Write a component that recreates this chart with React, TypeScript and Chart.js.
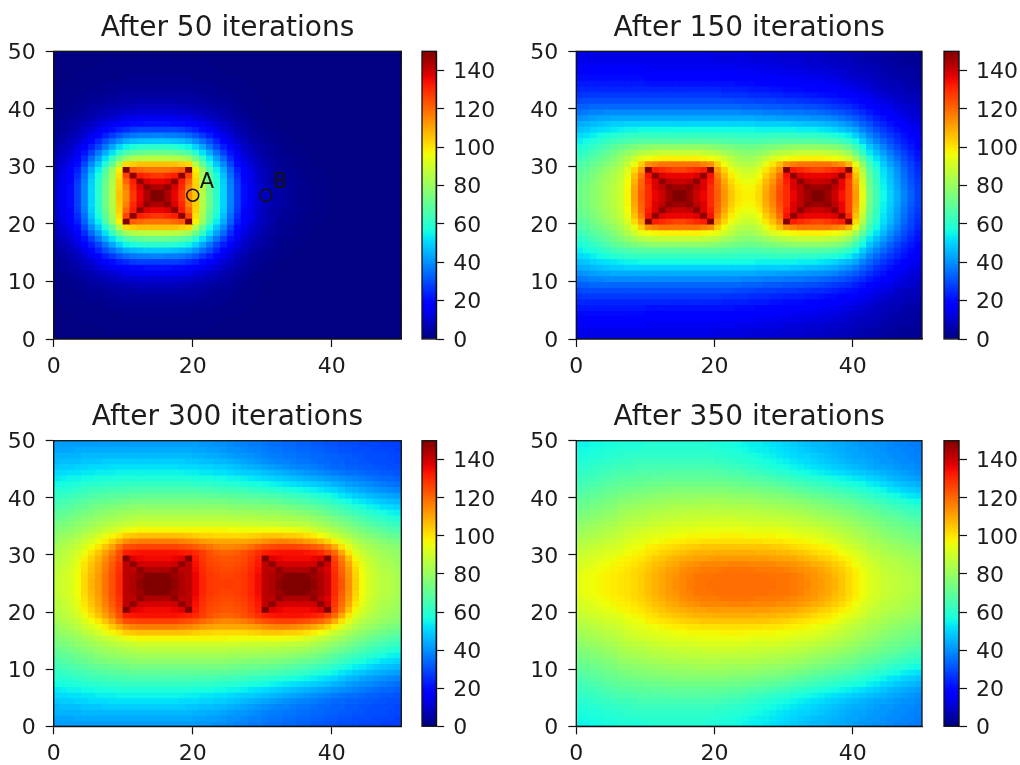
import React, { useEffect, useRef } from "react";
import { Chart, registerables } from "chart.js";

Chart.register(...registerables);

// Temperature, one number per grid cell. Rows run from the middle (y = 25)
// up to the top edge (y = 49); the field is mirrored about y = 25. A short row means zeros after its end.
const after50Rows = [
  [11,15,20,28,38,50,60,72,85,105,114,128,136,144,150,150,144,136,128,114,105,85,72,60,50,38,28,20,15,11,8,6,5,4,3,2,2,1,1,1],
  [11,15,20,28,38,50,60,72,85,104,116,130,138,148,144,144,148,138,130,116,104,85,72,60,50,38,28,20,15,11,8,6,5,4,3,2,2,1,1,1],
  [10,14,19,27,37,49,59,71,84,103,120,132,148,138,136,136,138,148,132,120,103,84,71,59,49,37,27,19,14,10,7,5,4,3,3,2,2,1,1,1],
  [10,14,18,25,35,47,57,69,82,101,126,148,132,130,128,128,130,132,148,126,101,82,69,57,47,35,25,18,14,10,7,5,4,3,2,2,1,1,1],
  [9,13,17,23,33,44,54,66,80,98,150,122,120,118,118,118,118,120,122,150,98,80,66,54,44,33,23,17,13,9,7,5,3,3,2,2,1,1,1],
  [8,11,15,20,29,39,48,58,70,85,102,104,106,106,106,106,106,106,104,102,85,70,58,48,39,29,20,15,11,8,6,4,3,2,2,1,1,1],
  [7,10,13,18,25,34,42,52,62,72,80,84,85,86,86,86,86,85,84,80,72,62,52,42,34,25,18,13,10,7,5,4,3,2,2,1,1],
  [6,8,11,15,21,28,36,44,52,60,66,69,71,72,72,72,72,71,69,66,60,52,44,36,28,21,15,11,8,6,4,3,2,2,1,1,1],
  [5,7,9,13,17,23,29,36,43,50,55,57,59,60,60,60,60,59,57,55,50,43,36,29,23,17,13,9,7,5,4,3,2,1,1,1],
  [4,5,8,10,14,19,24,30,35,40,44,46,47,48,48,48,48,47,46,44,40,35,30,24,19,14,10,8,5,4,3,2,2,1,1],
  [3,4,6,8,11,15,19,23,27,31,34,36,37,37,38,38,37,37,36,34,31,27,23,19,15,11,8,6,4,3,2,2,1,1],
  [2,3,5,6,9,11,14,17,20,23,25,27,28,28,28,28,28,28,27,25,23,20,17,14,11,9,6,5,3,2,2,1,1],
  [2,3,4,5,7,9,11,13,15,17,19,20,20,21,21,21,21,20,20,19,17,15,13,11,9,7,5,4,3,2,1,1],
  [1,2,3,4,5,6,8,9,11,12,14,14,15,15,15,15,15,15,14,14,12,11,9,8,6,5,4,3,2,1,1,1],
  [1,1,2,3,4,5,6,7,8,9,10,10,11,11,11,11,11,11,10,10,9,8,7,6,5,4,3,2,1,1,1],
  [1,1,2,2,3,4,4,5,6,6,7,7,8,8,8,8,8,8,7,7,6,6,5,4,4,3,2,2,1,1],
  [1,1,1,2,2,3,3,4,4,5,5,5,6,6,6,6,6,6,5,5,5,4,4,3,3,2,2,1,1,1],
  [0,1,1,1,2,2,2,3,3,4,4,4,4,4,4,4,4,4,4,4,4,3,3,2,2,2,1,1,1],
  [0,1,1,1,1,2,2,2,2,3,3,3,3,3,3,3,3,3,3,3,3,2,2,2,2,1,1,1,1],
  [0,0,1,1,1,1,1,2,2,2,2,2,2,2,2,2,2,2,2,2,2,2,2,1,1,1,1,1],
  [0,0,0,1,1,1,1,1,1,1,2,2,2,2,2,2,2,2,2,2,1,1,1,1,1,1,1],
  [0,0,0,0,1,1,1,1,1,1,1,1,1,1,1,1,1,1,1,1,1,1,1,1,1],
  [0,0,0,0,0,0,1,1,1,1,1,1,1,1,1,1,1,1,1,1,1,1,1],
  [0,0,0,0,0,0,0,1,1,1,1,1,1,1,1,1,1,1,1,1,1,1],
  [],
];
const after150Rows = [
  [72,74,77,80,83,86,90,97,111,122,130,136,140,146,150,150,146,140,136,130,122,113,105,100,98,98,102,110,116,125,130,136,142,146,150,150,146,140,134,126,112,94,74,64,56,50,44,38,33,28],
  [72,74,77,80,83,86,90,97,110,121,130,138,142,148,146,146,148,142,138,130,121,112,104,99,97,97,101,109,115,124,130,138,142,148,146,146,148,142,136,126,111,93,73,63,55,49,43,37,32,28],
  [71,73,76,79,82,85,89,96,108,120,132,138,148,142,140,140,142,148,138,132,120,110,102,97,95,95,99,107,113,122,132,138,148,142,140,140,142,148,136,126,109,91,72,62,54,48,42,36,31,27],
  [70,72,75,78,81,84,88,94,106,117,134,148,138,136,136,136,136,138,148,134,117,107,99,94,92,92,96,104,110,119,134,148,138,136,136,136,136,138,148,130,106,88,70,61,53,47,41,35,30,26],
  [68,70,73,76,79,82,86,92,102,112,150,132,130,128,126,126,128,130,132,150,112,103,95,91,89,89,93,100,106,114,150,132,130,128,126,126,128,130,132,150,102,84,68,59,52,46,40,34,29,25],
  [66,68,71,73,76,79,83,88,95,104,114,116,118,118,118,118,118,118,116,114,104,96,90,86,85,85,88,94,100,106,114,116,118,118,118,118,118,116,114,108,94,78,64,56,49,43,38,32,28,24],
  [63,65,68,70,73,76,80,84,89,94,96,97,98,98,98,98,98,98,97,96,94,90,86,83,81,81,84,88,92,94,96,97,98,98,98,98,97,96,94,90,82,70,59,52,46,40,35,30,26,22],
  [60,62,65,67,70,73,76,79,82,85,86,87,88,88,88,88,88,88,87,86,85,82,80,78,77,77,78,80,83,85,86,87,88,88,88,88,87,86,84,80,72,62,53,47,42,37,32,28,24,21],
  [57,59,61,64,66,69,71,73,75,76,77,78,78,78,78,78,78,78,78,77,76,75,74,73,72,72,73,74,75,76,77,78,78,78,78,78,77,76,74,70,64,56,48,43,38,33,29,25,22,19],
  [54,56,58,60,62,64,65,66,67,68,68,68,68,68,68,68,68,68,68,68,68,67,67,66,66,66,66,67,67,68,68,68,68,68,68,67,67,66,64,61,56,49,43,38,34,30,26,23,20,17],
  [51,52,54,56,57,59,60,61,62,62,62,62,62,62,62,62,62,62,62,62,62,62,62,61,61,61,61,61,62,62,62,62,61,61,61,60,59,58,56,54,49,44,38,34,30,27,24,21,18,16],
  [47,48,50,51,52,53,54,55,55,56,56,56,56,56,56,56,56,56,56,56,56,56,56,56,56,56,55,55,55,55,55,55,54,54,54,53,52,50,48,46,43,38,34,30,27,24,21,18,16,14],
  [44,45,46,47,48,49,49,50,50,50,50,50,50,50,50,50,50,50,50,50,50,50,50,50,50,50,49,49,49,49,49,48,48,47,47,46,45,44,42,40,37,33,30,26,24,21,18,16,14,13],
  [40,41,42,43,43,44,44,44,44,44,44,44,44,44,44,44,44,44,44,44,44,44,44,44,44,44,43,43,43,42,42,42,41,41,40,40,39,38,36,34,32,29,26,23,21,18,16,14,12,11],
  [36,37,38,38,39,39,39,39,39,39,39,39,39,39,39,39,39,39,39,39,39,39,39,39,38,38,38,37,37,37,36,36,36,35,35,34,33,32,31,29,27,25,22,20,18,16,14,12,11,10],
  [33,33,34,34,34,34,34,34,34,34,34,34,34,34,34,34,34,34,34,34,34,34,34,34,33,33,33,32,32,32,31,31,31,30,30,29,28,27,26,25,23,21,19,17,15,14,12,11,10,9],
  [29,30,30,30,30,30,30,30,30,30,30,30,30,30,30,30,30,30,30,30,30,30,30,29,29,29,28,28,28,27,27,27,26,26,25,25,24,23,22,21,20,18,16,14,13,12,10,9,8,8],
  [26,27,27,27,27,27,27,27,27,27,27,27,27,27,27,27,27,27,27,27,27,26,26,26,26,25,25,25,24,24,23,23,23,22,22,21,20,20,19,18,17,15,14,12,11,10,9,8,7,7],
  [24,24,24,24,24,24,24,24,24,24,24,24,24,24,24,24,24,24,24,24,24,23,23,23,23,22,22,22,21,21,20,20,20,19,19,18,18,17,16,15,14,13,12,10,9,8,8,7,6,6],
  [22,22,22,22,22,22,22,22,22,22,21,21,21,21,21,21,21,21,21,21,21,21,21,20,20,20,19,19,19,18,18,17,17,17,16,16,15,15,14,13,12,11,10,9,8,7,7,6,5,5],
  [20,20,20,20,20,20,20,20,20,20,19,19,19,19,19,19,19,19,19,19,19,19,19,18,18,18,17,17,17,16,16,15,15,15,14,14,13,13,12,11,10,10,9,8,7,6,6,5,5,4],
  [18,18,18,18,18,18,18,18,18,18,17,17,17,17,17,17,17,17,17,17,17,17,16,16,16,16,15,15,15,14,14,14,13,13,13,12,12,11,11,10,9,8,8,7,6,6,5,5,4,4],
  [16,16,16,16,16,16,16,16,16,16,15,15,15,15,15,15,15,15,15,15,15,15,15,14,14,14,14,13,13,13,12,12,12,11,11,11,10,10,9,9,8,7,7,6,5,5,4,4,4,3],
  [14,14,14,14,14,14,14,14,14,14,14,14,14,14,14,14,14,14,14,14,13,13,13,13,13,12,12,12,12,11,11,11,11,10,10,10,9,9,8,8,7,6,6,5,5,4,4,3,3,3],
  [13,13,13,13,13,13,13,13,13,13,13,13,13,13,13,13,13,13,13,13,12,12,12,12,12,11,11,11,11,10,10,10,10,9,9,9,8,8,7,7,6,6,5,5,4,4,3,3,3,3],
];
const after300Rows = [
  [88,90,92,96,102,108,112,118,124,130,142,144,148,150,150,150,150,148,144,142,136,131,128,127,127,127,127,128,131,135,142,144,148,150,150,150,150,148,144,140,130,123,114,104,96,91,88,86,85,83],
  [88,90,92,96,102,107,112,118,124,130,142,144,146,149,150,150,149,146,144,142,136,131,128,127,126,126,127,128,131,135,142,144,146,149,150,150,149,146,144,140,130,122,113,103,96,91,88,86,85,83],
  [87,89,91,95,101,106,111,117,123,129,142,142,148,144,144,144,144,148,142,142,135,130,127,126,125,125,126,127,130,134,142,142,148,144,144,144,144,148,142,138,129,121,112,102,95,90,87,85,84,82],
  [86,88,90,94,100,105,110,116,122,128,142,148,140,139,139,139,139,140,148,142,134,129,126,125,124,124,125,126,129,133,142,148,140,139,139,139,139,140,148,140,128,119,110,100,94,89,86,84,83,81],
  [85,87,89,93,98,103,108,114,120,126,150,138,136,135,135,135,135,136,138,150,133,128,125,124,123,123,124,125,128,132,150,138,136,135,135,135,135,136,138,150,126,117,106,97,91,88,85,83,82,80],
  [84,86,88,91,95,100,105,111,117,124,132,133,134,134,134,134,134,134,133,132,130,127,124,122,121,121,122,124,126,129,132,133,134,134,134,134,133,132,130,126,120,110,100,93,89,85,83,82,80,79],
  [82,84,86,88,92,96,100,105,111,118,124,125,126,126,126,126,126,126,125,124,122,120,118,116,115,115,116,117,119,122,124,125,126,126,126,125,124,122,120,116,109,101,94,89,85,83,81,79,78,77],
  [80,82,84,86,89,92,95,99,104,109,114,116,117,117,117,117,117,117,116,115,114,112,111,110,110,110,110,110,111,112,114,115,116,116,115,114,112,110,107,103,98,93,89,85,82,80,78,77,75,74],
  [78,80,81,83,86,88,91,94,97,100,104,105,106,106,106,106,106,106,106,105,104,103,103,102,102,102,102,102,103,104,105,105,105,104,104,103,101,99,96,93,89,86,83,80,78,76,74,73,71,70],
  [76,77,78,80,82,84,86,88,90,92,95,96,97,97,97,97,97,97,97,97,97,97,97,97,97,96,96,96,96,96,96,96,96,95,95,94,92,90,88,86,83,81,78,76,74,72,70,69,67,66],
  [74,75,76,78,79,81,83,84,86,87,88,89,90,90,90,90,90,90,90,90,90,90,90,90,90,90,90,89,89,89,89,89,88,88,87,87,86,84,82,80,78,76,74,72,70,68,66,65,63,62],
  [71,72,74,75,77,78,80,81,82,83,84,85,86,86,86,86,86,86,86,86,86,86,86,86,86,85,85,85,85,85,84,84,84,83,83,82,81,79,78,76,74,72,70,68,66,64,62,61,59,58],
  [69,70,71,73,74,75,77,78,79,80,81,81,82,82,82,82,82,82,82,82,82,82,82,82,82,81,81,81,81,80,80,80,79,79,78,77,76,75,73,71,69,67,65,63,62,60,58,57,55,54],
  [66,67,69,70,71,73,74,75,76,76,77,78,78,78,78,78,78,78,78,78,78,78,78,78,78,77,77,77,76,76,76,75,75,74,73,72,71,70,68,67,65,63,61,59,57,55,54,52,51,50],
  [64,65,66,67,68,70,71,71,72,73,73,74,74,74,74,74,74,74,74,74,74,74,74,74,74,73,73,72,72,72,71,71,70,69,68,67,66,65,63,62,60,58,56,54,53,51,49,48,47,46],
  [61,62,63,64,65,66,67,68,68,69,69,70,70,70,70,70,70,70,70,70,70,70,70,69,69,69,68,68,67,67,66,66,65,64,63,62,61,60,58,57,55,53,51,49,48,46,45,44,43,42],
  [59,59,60,61,62,63,64,64,65,65,65,66,66,66,66,66,66,66,66,66,66,65,65,65,64,64,63,63,62,61,61,60,59,58,57,56,55,54,53,51,50,48,46,45,43,42,41,40,39,38],
  [56,57,57,58,59,60,60,61,61,61,62,62,62,62,62,62,62,62,62,62,61,61,61,60,60,59,59,58,57,57,56,55,54,53,52,51,50,49,48,47,45,44,42,41,40,39,38,37,36,35],
  [53,54,55,55,56,56,57,57,58,58,58,58,58,58,58,58,58,58,58,58,57,57,57,56,56,55,55,54,53,52,51,50,49,48,47,46,45,44,43,42,41,40,39,38,37,36,35,34,34,33],
  [51,51,52,52,53,53,54,54,54,55,55,55,55,55,55,55,55,55,55,54,54,53,53,52,52,51,50,49,49,48,47,46,45,44,43,42,41,40,39,38,37,36,35,35,34,33,33,32,32,31],
  [48,49,49,50,50,51,51,51,52,52,52,52,52,52,52,52,52,52,51,51,51,50,50,49,49,48,47,46,45,44,43,42,41,40,39,38,38,37,36,35,34,34,33,33,32,32,31,31,30,30],
  [46,47,47,47,48,48,48,49,49,49,49,49,49,49,49,49,49,49,49,48,48,47,47,46,46,45,44,43,42,41,40,39,38,38,37,36,36,35,34,34,33,33,32,32,31,31,30,30,30,29],
  [45,45,45,45,46,46,46,46,46,46,46,46,46,46,46,46,46,46,46,46,45,45,44,44,43,42,41,41,40,39,38,37,37,36,36,35,35,34,34,33,33,32,32,31,31,30,30,30,29,29],
  [43,43,43,44,44,44,44,44,44,44,44,44,44,44,44,44,44,44,44,44,43,43,42,42,41,40,40,39,38,38,37,36,36,35,35,34,34,33,33,32,32,31,31,30,30,30,29,29,29,28],
  [42,42,42,42,42,42,42,42,42,42,42,42,42,42,42,42,42,42,42,42,42,41,41,40,40,39,38,38,37,37,36,35,35,34,34,33,33,32,32,31,31,30,30,30,29,29,29,28,28,28],
];
const after350Rows = [
  [94,95,96,97,98,99,100,101,102,104,106,108,110,112,114,115,117,118,118,119,119,119,119,119,119,119,119,119,119,118,118,117,116,115,113,112,110,108,105,102,99,96,93,91,89,88,87,86,85,84],
  [94,95,96,97,98,99,100,101,102,104,106,108,110,112,113,115,116,118,118,118,119,119,119,119,119,119,119,119,118,118,118,117,116,114,113,111,110,107,105,102,99,96,93,91,89,88,87,86,85,84],
  [92,94,95,96,97,98,99,100,102,103,105,107,109,111,112,114,115,116,117,117,117,118,118,118,118,118,117,117,117,117,116,115,114,113,112,110,108,106,104,101,98,95,92,90,88,87,86,85,84,83],
  [91,92,93,95,96,97,98,99,100,102,104,106,107,109,110,112,113,114,115,115,115,115,116,116,116,115,115,115,115,114,114,113,112,111,109,108,106,104,102,99,96,93,91,89,87,86,85,84,83,82],
  [90,91,92,93,94,95,97,98,99,100,102,104,105,107,108,109,110,111,111,112,112,112,112,112,112,112,112,112,111,111,110,110,108,107,106,104,103,101,99,97,94,92,89,87,86,85,84,83,82,81],
  [88,89,90,91,92,93,94,96,97,98,100,101,103,104,105,106,107,108,108,108,109,109,109,109,109,109,108,108,108,107,107,106,105,104,102,101,100,98,96,94,92,90,87,86,84,83,82,81,80,79],
  [86,87,88,89,90,91,92,94,95,96,98,99,100,101,102,103,104,104,105,105,105,105,105,105,105,105,105,105,104,104,103,102,101,100,99,98,97,95,93,91,89,87,85,84,83,81,80,79,78,77],
  [84,85,86,87,88,89,90,92,93,94,95,96,97,98,99,99,100,100,101,101,101,101,101,101,101,101,101,100,100,100,99,98,98,97,96,95,93,92,90,88,87,85,83,82,81,79,78,77,76,75],
  [82,83,84,85,86,87,88,90,91,92,93,94,94,95,96,96,97,97,97,97,97,98,98,98,97,97,97,97,97,96,96,95,94,94,93,92,90,89,88,86,84,83,81,80,78,77,76,75,74,73],
  [80,81,82,83,84,85,87,88,89,90,91,91,92,93,93,94,94,94,95,95,95,95,95,95,95,94,94,94,94,94,93,92,91,91,90,89,88,86,85,84,82,81,79,78,76,75,74,73,72,71],
  [78,79,80,81,82,83,85,86,87,87,88,89,90,90,91,91,91,92,92,92,92,92,92,92,92,91,91,91,91,90,90,89,88,88,87,86,85,84,83,81,80,78,77,76,74,73,72,71,70,69],
  [76,77,78,79,80,81,83,84,85,85,86,87,87,88,88,89,89,89,89,90,90,90,90,89,89,89,89,88,88,88,87,87,86,85,84,83,82,81,80,79,77,76,75,73,72,71,70,68,67,66],
  [74,75,76,77,78,79,81,82,83,83,84,85,85,86,86,86,87,87,87,87,87,87,87,87,87,86,86,86,85,85,84,84,83,82,81,80,79,78,77,76,75,73,72,71,69,68,67,65,64,63],
  [72,73,74,75,76,77,79,80,80,81,82,82,83,83,84,84,84,84,84,85,85,84,84,84,84,84,83,83,83,82,81,81,80,79,78,77,76,75,74,73,72,70,69,68,66,65,63,62,61,60],
  [70,71,72,73,74,75,77,77,78,79,79,80,80,81,81,81,81,82,82,82,82,82,81,81,81,81,80,80,79,79,78,78,77,76,75,74,73,72,71,70,69,67,66,64,63,61,60,59,57,56],
  [68,69,70,71,72,73,74,75,76,76,77,77,78,78,78,79,79,79,79,79,79,79,79,78,78,78,77,77,76,76,75,74,73,72,71,70,69,68,67,66,65,63,62,60,59,57,56,54,53,52],
  [66,67,68,69,70,71,72,73,73,74,74,75,75,75,76,76,76,76,76,76,76,76,75,75,75,74,74,73,73,72,71,70,69,68,67,66,65,64,63,62,61,59,58,56,55,53,52,50,49,48],
  [64,65,66,67,68,69,70,70,71,71,72,72,72,73,73,73,73,73,73,73,73,73,72,72,71,71,70,70,69,68,67,66,65,64,63,62,61,60,59,58,57,56,54,53,51,50,48,47,46,45],
  [63,63,64,65,66,67,68,68,69,69,69,70,70,70,70,70,70,70,70,70,70,70,69,69,68,67,67,66,65,64,63,62,61,60,59,58,57,56,55,54,53,52,50,49,48,46,45,44,43,42],
  [61,62,62,63,64,65,66,66,66,67,67,67,67,68,68,68,68,68,68,68,67,67,66,66,65,64,63,62,61,60,59,58,57,56,55,54,53,52,51,50,49,48,47,46,45,44,43,42,41,40],
  [60,60,61,62,62,63,64,64,64,65,65,65,65,65,65,65,65,65,65,65,65,64,63,63,62,61,60,59,58,57,56,55,54,53,52,51,50,49,48,47,46,45,44,43,43,42,41,40,40,39],
  [58,59,59,60,61,61,62,62,63,63,63,63,63,63,63,63,63,63,63,63,62,62,61,60,60,59,58,57,56,55,54,53,52,51,50,49,48,47,46,45,44,44,43,42,41,41,40,39,39,38],
  [57,57,58,58,59,60,60,61,61,61,61,61,61,61,61,61,61,61,61,61,60,60,59,59,58,57,56,55,54,53,52,51,50,50,49,48,47,46,45,44,43,43,42,41,41,40,39,39,38,38],
  [56,56,57,57,58,58,59,59,59,60,60,60,60,60,60,60,60,60,60,59,59,58,58,57,56,55,54,54,53,52,51,50,49,48,47,46,46,45,44,43,43,42,41,41,40,39,39,38,38,37],
  [55,55,56,56,57,57,58,58,58,58,59,59,59,59,59,59,59,59,59,58,58,57,57,56,55,54,54,53,52,51,50,49,48,47,46,46,45,44,44,43,42,41,41,40,40,39,38,38,37,37],
];

const titles = ["After 50 iterations", "After 150 iterations", "After 300 iterations", "After 350 iterations"];
const panelRows = [after50Rows, after150Rows, after300Rows, after350Rows];

const markerLabels = ["A", "B"];
const markerX = [20, 30.5];
const markerY = [25, 25];

const xTickStep = 20;
const yTickStep = 10;
const barTickStep = 20;
const valueMax = 150;
const colorbarSpan = [0, 150];

const FONT = "'DejaVu Sans', sans-serif";
const INK = "#1c1c1c";

const layouts = [
  { left: 0, top: 0, plotLeft: 53.7, plotRight: 401.3, plotTop: 51.3, plotBottom: 339, barLeft: 422.3, barRight: 436.5 },
  { left: 510, top: 0, plotLeft: 576.3, plotRight: 922, plotTop: 51.3, plotBottom: 339, barLeft: 943.5, barRight: 958.5 },
  { left: 0, top: 383, plotLeft: 53.7, plotRight: 401.3, plotTop: 440.7, plotBottom: 726.3, barLeft: 422.3, barRight: 436.5 },
  { left: 510, top: 383, plotLeft: 576.3, plotRight: 922, plotTop: 440.7, plotBottom: 726.3, barLeft: 943.5, barRight: 958.5 },
];

function clamp01(v: number) {
  return Math.max(0, Math.min(1, v));
}
function jetRgb(t: number) {
  const r = t < 0.35 ? 0 : t < 0.66 ? (t - 0.35) / 0.31 : t < 0.89 ? 1 : 1 - ((t - 0.89) / 0.11) * 0.5;
  const g = t < 0.125 ? 0 : t < 0.375 ? (t - 0.125) / 0.25 : t < 0.64 ? 1 : t < 0.91 ? 1 - (t - 0.64) / 0.27 : 0;
  const b = t < 0.11 ? 0.5 + (t / 0.11) * 0.5 : t < 0.34 ? 1 : t < 0.65 ? 1 - (t - 0.34) / 0.31 : 0;
  return `rgb(${Math.round(clamp01(r) * 255)},${Math.round(clamp01(g) * 255)},${Math.round(clamp01(b) * 255)})`;
}

function buildCells(rows: number[][]) {
  const cells: { x: number; y: [number, number] }[] = [];
  const colors: string[] = [];
  for (let y = 0; y < 50; y++) {
    const row = rows[y >= 25 ? y - 25 : 24 - y];
    for (let x = 0; x < 50; x++) {
      cells.push({ x: x + 0.5, y: [y, y + 1] });
      colors.push(jetRgb((row[x] ?? 0) / valueMax));
    }
  }
  return { cells, colors };
}

const framePlugin = {
  id: "frame",
  afterDraw(chart: any) {
    const { ctx, chartArea: a } = chart;
    ctx.save();
    ctx.strokeStyle = "#111";
    ctx.lineWidth = 1.3;
    ctx.strokeRect(a.left, a.top, a.right - a.left, a.bottom - a.top);
    ctx.restore();
  },
};

const markerLabelPlugin = {
  id: "markerLabels",
  afterDraw(chart: any) {
    const names: string[] | undefined = chart.options.plugins.markerLabels?.names;
    if (!names) return;
    const { ctx, scales } = chart;
    ctx.save();
    ctx.fillStyle = "#111";
    ctx.font = `21px ${FONT}`;
    ctx.textAlign = "left";
    ctx.textBaseline = "alphabetic";
    names.forEach((n, i) => {
      ctx.fillText(n, scales.x.getPixelForValue(markerX[i] + 1), scales.y.getPixelForValue(markerY[i] + 1.2));
    });
    ctx.restore();
  },
};

function axisTicks(step: number) {
  return {
    stepSize: step,
    includeBounds: false,
    color: INK,
    font: { family: FONT, size: 22 },
    maxRotation: 0,
    autoSkip: false,
  };
}

function Panel({ index }: { index: number }) {
  const heat = useRef<HTMLCanvasElement>(null);
  const bar = useRef<HTMLCanvasElement>(null);
  const L = layouts[index];
  const W = 510;
  const H = 382;
  const barCanvasLeft = L.barLeft - 10;
  const barCanvasW = 85;

  useEffect(() => {
    const { cells, colors } = buildCells(panelRows[index]);
    const gridOpts = { display: true, drawOnChartArea: false, drawTicks: true, tickLength: 8, tickColor: "#111", tickWidth: 1.2 };
    const datasets: any[] = [
      {
        type: "bar",
        data: cells,
        backgroundColor: colors,
        borderWidth: 0,
        inflateAmount: 0.6,
        barPercentage: 1,
        categoryPercentage: 1,
        grouped: false,
        order: 1,
      },
    ];
    if (index === 0) {
      datasets.push({
        type: "scatter",
        data: markerX.map((x, i) => ({ x, y: markerY[i] })),
        pointRadius: 6,
        pointBackgroundColor: "rgba(0,0,0,0)",
        pointBorderColor: "#111",
        pointBorderWidth: 1.5,
        showLine: false,
        order: 0,
      });
    }
    const titleFont = { family: FONT, size: 28, weight: "normal" as const, lineHeight: 1.2 };
    const heatChart = new Chart(heat.current!, {
      type: "bar",
      data: { datasets },
      options: {
        responsive: false,
        animation: false,
        events: [],
        layout: { padding: { top: 0, right: L.left + W - L.plotRight, left: 0, bottom: 0 } },
        plugins: {
          legend: { display: false },
          tooltip: { enabled: false },
          title: {
            display: true,
            text: titles[index],
            color: INK,
            font: titleFont,
            fullSize: false,
            padding: { top: L.plotTop - L.top - 33.6 - 6, bottom: 6 },
          },
          markerLabels: { names: index === 0 ? markerLabels : undefined },
        } as any,
        scales: {
          x: {
            type: "linear",
            min: 0,
            max: 50,
            offset: false,
            grid: { ...gridOpts, offset: false },
            border: { display: true, color: "#111", width: 1.2 },
            ticks: { ...axisTicks(xTickStep), padding: 7 },
            afterFit: (s: any) => {
              s.height = L.top + H - L.plotBottom;
            },
          },
          y: {
            type: "linear",
            min: 0,
            max: 50,
            grid: gridOpts,
            border: { display: true, color: "#111", width: 1.2 },
            ticks: { ...axisTicks(yTickStep), padding: 10, labelOffset: 2 },
            afterFit: (s: any) => {
              s.width = L.plotLeft - L.left;
            },
          },
        },
      } as any,
      plugins: [framePlugin, markerLabelPlugin],
    });

    const barChart = new Chart(bar.current!, {
      type: "bar",
      data: {
        labels: [""],
        datasets: [
          {
            data: [colorbarSpan],
            barPercentage: 1,
            categoryPercentage: 1,
            borderWidth: 0,
            backgroundColor: (ctx: any) => {
              const area = ctx.chart.chartArea;
              if (!area) return "#000";
              const g = ctx.chart.ctx.createLinearGradient(0, area.bottom, 0, area.top);
              for (let i = 0; i <= 60; i++) g.addColorStop(i / 60, jetRgb(i / 60));
              return g;
            },
          },
        ],
      },
      options: {
        responsive: false,
        animation: false,
        events: [],
        layout: { padding: { top: L.plotTop - L.top, left: L.barLeft - barCanvasLeft, right: 0, bottom: L.top + H - L.plotBottom } },
        plugins: { legend: { display: false }, tooltip: { enabled: false } },
        scales: {
          x: { display: false },
          y: {
            type: "linear",
            position: "right",
            min: 0,
            max: valueMax,
            grid: gridOpts,
            border: { display: true, color: "#111", width: 1.2 },
            ticks: { ...axisTicks(barTickStep), padding: 9, labelOffset: 2 },
            afterFit: (s: any) => {
              s.width = barCanvasW - (L.barRight - barCanvasLeft);
            },
          },
        },
      } as any,
      plugins: [framePlugin],
    });
    return () => {
      heatChart.destroy();
      barChart.destroy();
    };
  }, [index]);

  const soft = "blur(0.6px)";
  return (
    <>
      <canvas
        ref={heat}
        width={W}
        height={H}
        style={{ position: "absolute", left: L.left, top: L.top, width: W, height: H, filter: soft }}
      />
      <canvas
        ref={bar}
        width={barCanvasW}
        height={H}
        style={{ position: "absolute", left: barCanvasLeft, top: L.top, width: barCanvasW, height: H, filter: soft }}
      />
    </>
  );
}

export default function App() {
  return (
    <div style={{ position: "absolute", left: 0, top: 0, width: 1020, height: 765, background: "#fff", overflow: "hidden" }}>
      {titles.map((_, i) => (
        <Panel key={i} index={i} />
      ))}
    </div>
  );
}
